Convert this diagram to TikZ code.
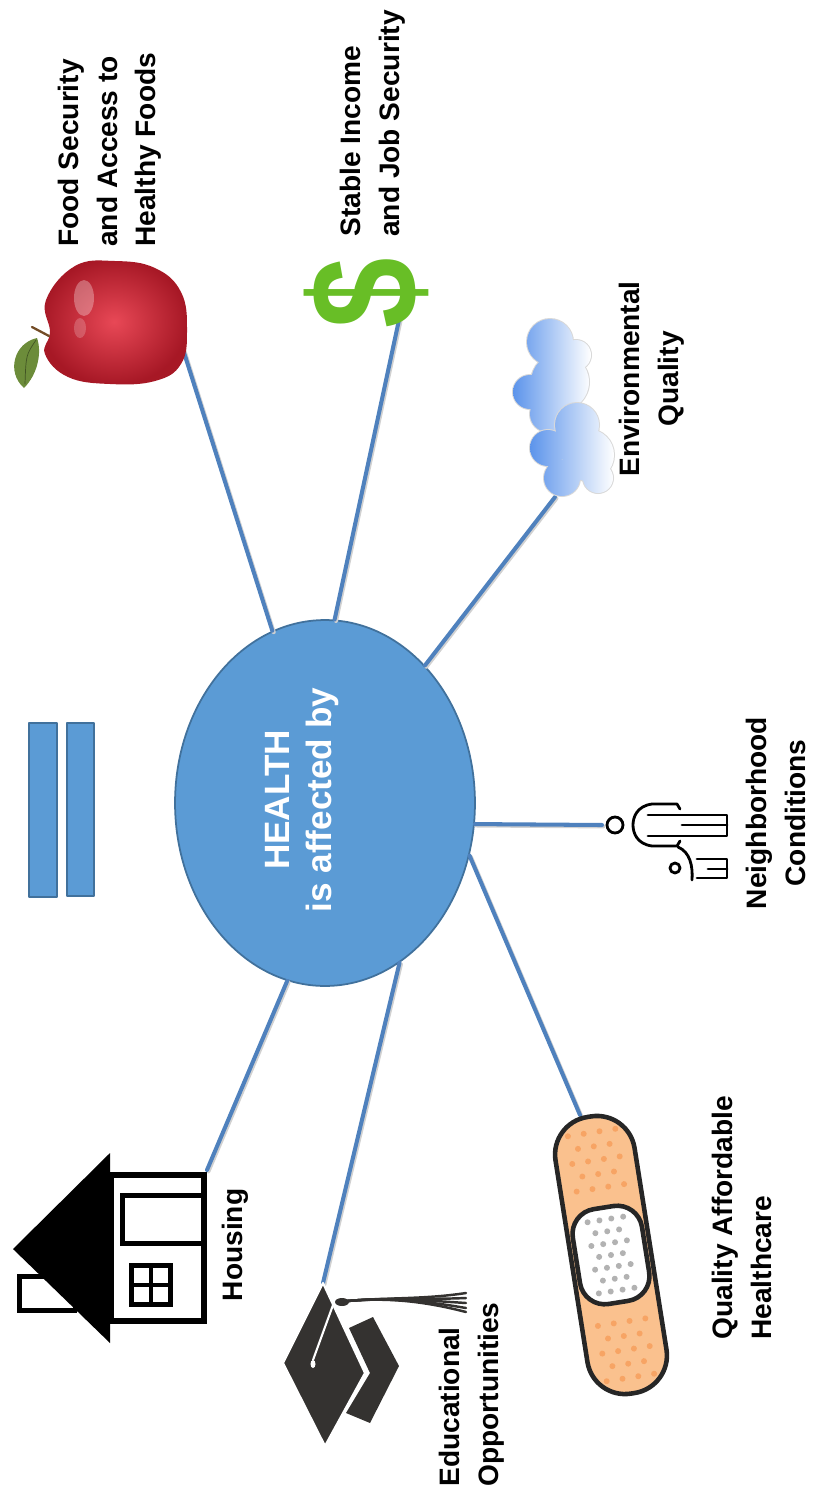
\documentclass[tikz,border=0pt]{standalone}
\usepackage{fontspec}
\setmainfont{Liberation Sans}
\usetikzlibrary{shapes.geometric}

\definecolor{hblue}{RGB}{91,155,213}
\definecolor{hedge}{RGB}{65,113,156}
\definecolor{linkblue}{RGB}{79,129,189}
\definecolor{applered}{RGB}{196,28,44}
\definecolor{applelight}{RGB}{232,72,86}
\definecolor{leafgreen}{RGB}{108,140,58}
\definecolor{cashgreen}{RGB}{104,190,38}
\definecolor{cloudblue}{RGB}{92,148,235}
\definecolor{padorange}{RGB}{250,193,142}
\definecolor{dotorange}{RGB}{247,164,100}
\definecolor{capgrey}{RGB}{52,50,48}

\begin{document}
\begin{tikzpicture}[x=0.02cm, y=-0.02cm, line cap=round, line join=round,
    link/.style={draw=linkblue, line width=2.3pt,
      preaction={draw=black!18, line width=2.3pt,
        transform canvas={shift={(0.8pt,-0.8pt)}}}},
    lbl/.style={font=\fontsize{16}{22}\selectfont\bfseries, rotate=90, inner sep=0pt},
    ink/.style={line width=1.6pt},
    bar/.style={draw=hedge, fill=hblue, line width=1pt, inner sep=0pt}]
  \useasboundingbox (0,0) rectangle (812,1492);

  \node[ellipse, fill=hblue, draw=hedge, line width=1pt, inner sep=0pt,
        minimum width=6cm, minimum height=7.32cm] (health) at (325,803) {};
  \node[lbl, text=white, font=\fontsize{20}{24}\selectfont\bfseries, align=center]
        (healthlbl) at (302,800) {HEALTH\\is affected by};

  % the "equals" bars
  \node[bar, minimum width=0.56cm, minimum height=3.48cm] (barA) at (43,810) {};
  \node[bar, minimum width=0.54cm, minimum height=3.46cm] (barB) at (80.5,809.5) {};

  % where the spokes meet the pictures
  \coordinate (apple) at (180,340);
  \coordinate (cash) at (405,292);
  \coordinate (cloud) at (555,497);
  \coordinate (hood) at (602,825);
  \coordinate (aid) at (580,1115);
  \coordinate (cap) at (323,1283);
  \coordinate (house) at (207,1170);

  \draw[link] (health.107) -- (apple);
  \draw[link] (health.87) -- (cash);
  \draw[link] (health.54) -- (cloud);
  \draw[link] (health.-8) -- (hood);
  \draw[link] (health.-20) -- (aid);
  \draw[link] (health.-65) -- (cap);
  \draw[link] (health.-102) -- (house);

  % apple
  \shade[inner color=applelight, outer color=applered!85!black]
    plot[smooth cycle, tension=0.7] coordinates {(46,300) (75,266) (115,261)
      (155,268) (181,292) (187,330) (181,364) (155,381) (110,384) (68,377)
      (45,354) (50,332)};
  \fill[white, opacity=0.3] (84,298) ellipse (10 and 18);
  \fill[white, opacity=0.2] (80,328) ellipse (6 and 10);
  \draw[brown!60!black, line width=1.3pt] (32,327) -- (49,336);
  \fill[leafgreen] (37,338) .. controls (14,343) and (6,372) .. (24,388)
    .. controls (38,374) and (42,352) .. cycle;
  \draw[leafgreen!60!black, line width=0.4pt] (36,340) .. controls (26,355) .. (25,384);

  % dollar sign
  \node[text=cashgreen, rotate=90, inner sep=0pt] (cashsign) at (366,293)
    {\scalebox{0.83}[1]{\fontsize{87}{87}\selectfont\bfseries\$}};

  % clouds
  \fill[gray!30] (550,342) circle (24) (530,392) circle (18) (560,382) circle (30)
    (576,355) circle (16) (548,414) circle (19);
  \shade[left color=cloudblue, right color=white] (550,342) circle (23)
    (530,392) circle (17) (560,382) circle (29) (576,355) circle (15)
    (548,414) circle (18);
  \fill[gray!30] (577,425) circle (23) (548,448) circle (19) (588,455) circle (27)
    (562,478) circle (19) (598,478) circle (16);
  \shade[left color=cloudblue, right color=white] (577,425) circle (22)
    (548,448) circle (18) (588,455) circle (26) (562,478) circle (18)
    (598,478) circle (15);

  % two people
  \draw[ink] (615,825) circle (8);
  \draw[ink] (680,809) -- (677,804) -- (652,804) .. controls (637,806) and (633,817) .. (633,825)
    .. controls (633,833) and (637,844) .. (652,846) -- (677,846) -- (680,841);
  \draw[ink] (648,815) -- (727,815) -- (727,836) -- (648,836);
  \draw[ink] (682,825) -- (727,825);
  \draw[ink] (675,868) circle (5);
  \draw[ink] (678,847) .. controls (690,852) and (693,866) .. (692,880);
  \draw[ink] (697,859) -- (727,859) -- (727,878) -- (697,878);
  \draw[ink] (708,869) -- (727,869);

  % bandage
  \begin{scope}[shift={(611,1255)}, rotate=9]
    \draw[fill=padorange, draw=black!85, line width=2.6pt, rounded corners=0.76cm]
      (-40,-140) rectangle (40,140);
    \foreach \s in {-1,1} {
      \foreach \r in {68,96,124} \foreach \c in {-24,-8,8,24}
        \fill[dotorange] (\c,\s*\r) circle (3);
      \foreach \r in {82,110} \foreach \c in {-16,0,16}
        \fill[dotorange] (\c,\s*\r) circle (3);
    }
    \draw[fill=white, draw=black!85, line width=2.6pt, rounded corners=0.5cm]
      (-35,-48) rectangle (35,48);
    \foreach \r in {-36,-12,12,36} \foreach \c in {-18,-6,6,18}
      \fill[gray!60] (\c,\r) circle (3);
    \foreach \r in {-24,0,24} \foreach \c in {-12,0,12}
      \fill[gray!60] (\c,\r) circle (3);
  \end{scope}

  % house
  \begin{scope}[line join=miter]
    \draw[line width=2.8pt] (19.5,1276.5) rectangle (75,1310.5);
    \draw[line width=3.4pt] (111,1175) rectangle (204,1321);
    \fill (13,1249) -- (110,1153) -- (110,1343) -- cycle;
    \draw[line width=2.8pt] (122.5,1195.5) rectangle (204,1243.5);
    \draw[line width=2.8pt] (131.5,1265.5) rectangle (170.5,1304.5);
    \draw[line width=2.2pt] (151,1265.5) -- (151,1304.5) (131.5,1285) -- (170.5,1285);
  \end{scope}

  % mortarboard
  \fill[capgrey] (349,1328) -- (373,1317) -- (399,1366) -- (370,1423) -- (346,1413)
    -- (370,1373) -- cycle;
  \draw[fill=capgrey, draw=white, line width=1.2pt]
    (323,1283) -- (365,1373) -- (325,1446) -- (283,1363) -- cycle;
  \draw[white, line width=1.2pt] (333,1305) -- (313,1360);
  \fill[white] (313,1364) ellipse (2.5 and 4);
  \foreach \e in {1293,1298,1303,1308,1312}
    \draw[capgrey, line width=1.4pt] (338,1302) .. controls (380,1297) and (420,1300) .. (466,\e);
  \fill[capgrey] (342,1302) ellipse (7 and 4);

  % labels
  \node[lbl, align=left, anchor=west] (foodlbl) at (110,247)
    {Food Security\\and Access to\\Healthy Foods};
  \node[lbl, align=left, anchor=west] (incomelbl) at (373,237)
    {Stable Income\\and Job Security};
  \node[lbl, align=center] (envlbl) at (652,379) {Environmental\\Quality};
  \node[lbl, align=center] (hoodlbl) at (776,813) {Neighborhood\\Conditions};
  \node[lbl, align=left, anchor=west] (carelbl) at (742,1340)
    {Quality Affordable\\Healthcare};
  \node[lbl] (houselbl) at (235,1245) {Housing};
  \node[lbl, align=left, anchor=west] (edulbl) at (472,1487)
    {Educational\\Opportunities};
\end{tikzpicture}
\end{document}
